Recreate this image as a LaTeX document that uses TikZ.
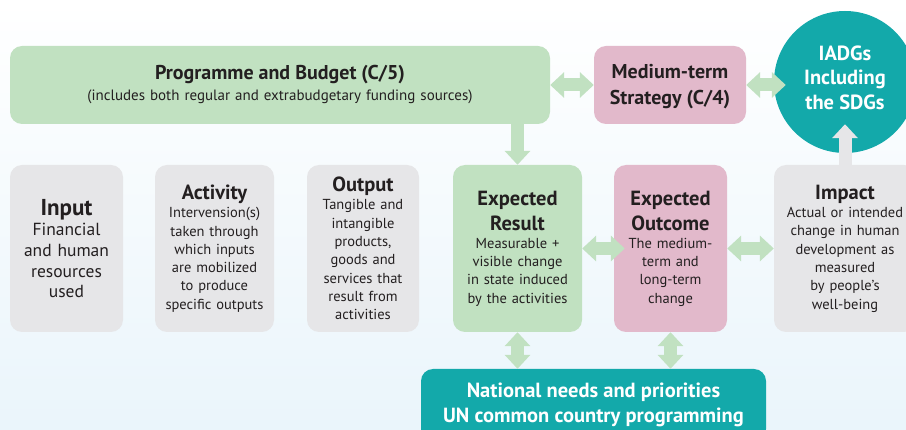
\documentclass[tikz,border=0pt]{standalone}
\usepackage{fontspec}
\setmainfont{PT Sans}
\usetikzlibrary{arrows.meta}

\definecolor{ink}{HTML}{231F20}
\definecolor{budgetgreen}{HTML}{C1E1C1}
\definecolor{strategypink}{HTML}{E2B9CB}
\definecolor{stepgrey}{HTML}{E6E6E8}
\definecolor{sdgteal}{HTML}{13A9AA}
\definecolor{skyfade}{HTML}{EAF5FB}

% heading of a box in the results chain, set as its own paragraph
\newcommand{\stephead}[1]{{\fontsize{20.5}{25}\bfseries #1\par}}
\newcommand{\bodysize}{\fontsize{14.5}{18.3}\selectfont}

\tikzset{
  box/.style={rounded corners=12pt, align=center, text=ink, inner sep=0pt},
  greenbox/.style={box, fill=budgetgreen},
  pinkbox/.style={box, fill=strategypink},
  greybox/.style={box, fill=stepgrey},
  chain/.style={minimum height=167pt, font=\bodysize},
  link/.style={draw=budgetgreen, line width=13pt, >={Triangle[width=25pt,length=14pt]}},
}

\begin{document}
\begin{tikzpicture}[x=1pt, y=-1pt]
  \clip (0,0) rectangle (906,430);
  \shade[top color=white, bottom color=skyfade] (0,0) rectangle (906,430);

  % top row
  \node[greenbox, minimum width=540pt, minimum height=78pt, text width=530pt,
    font=\fontsize{15}{21}\selectfont] (prog) at (280,85)
    {{\fontsize{20}{23}\bfseries Programme and Budget (C/5)\par}
     (includes both regular and extrabudgetary funding sources)};
  \node[pinkbox, minimum width=152pt, minimum height=78pt, text depth=2pt,
    font=\fontsize{20}{26}\bfseries] (mts) at (670,85)
    {Medium-term\\Strategy (C/4)};
  \node[circle, fill=sdgteal, text=white, minimum size=142pt, inner sep=0pt, align=center,
    text depth=9pt, font=\fontsize{20.5}{24.5}\bfseries] (iadg) at (845,82)
    {IADGs\\Including\\the SDGs};

  % results chain
  \node[greybox, chain, minimum width=113pt, text width=111pt,
    font=\fontsize{17.5}{20.7}\selectfont] (input) at (66.5,248.5)
    {{\fontsize{23}{26}\bfseries Input\par}
     Financial\\and human\\resources\\used};
  \node[greybox, chain, minimum width=119pt, text width=117pt] (activity) at (214.5,248.5)
    {\stephead{Activity}
     Intervension(s)\\taken through\\which inputs\\are mobilized\\to produce\\specific outputs};
  \node[greybox, chain, minimum width=112pt, text width=110pt] (output) at (363,248.5)
    {\stephead{Output}
     Tangible and\\intangible\\products,\\goods and\\services that\\result from\\activities};
  \node[greenbox, chain, minimum width=129pt, text width=127pt] (result) at (517.5,248.5)
    {\stephead{Expected\\Result}
     Measurable +\\visible change\\in state induced\\by the activities};
  \node[pinkbox, chain, minimum width=113pt, text width=111pt] (outcome) at (670.5,248.5)
    {\stephead{Expected\\Outcome}
     The medium-\\term and\\long-term\\change};
  \node[greybox, chain, minimum width=142pt, text width=140pt] (impact) at (845,248.5)
    {\stephead{Impact}
     Actual or intended\\change in human\\development as\\measured\\by people's\\well-being};

  \node[box, fill=sdgteal, text=white, minimum width=345pt, minimum height=72pt,
    font=\fontsize{20.5}{25}\bfseries] (national) at (593.5,405)
    {National needs and priorities\\UN common country programming};

  % arrows
  \draw[link, <->] (prog.east) -- (mts.west);
  \draw[link, <->, shorten >=-12pt] (mts.east) -- (mts.east -| iadg.west);
  \draw[link, ->] (result.north |- prog.south) -- (result.north);
  \draw[link, <->, shorten >=-11pt] (result.east) -- (outcome.west);
  \draw[link, <->] (outcome.east) -- (impact.west);
  \draw[link, <->] (result.south) -- (result.south |- national.north);
  \draw[link, <->] (outcome.south) -- (outcome.south |- national.north);
  \draw[link, draw=stepgrey, ->, shorten >=-29pt] (impact.north) -- (iadg.south);
\end{tikzpicture}
\end{document}
